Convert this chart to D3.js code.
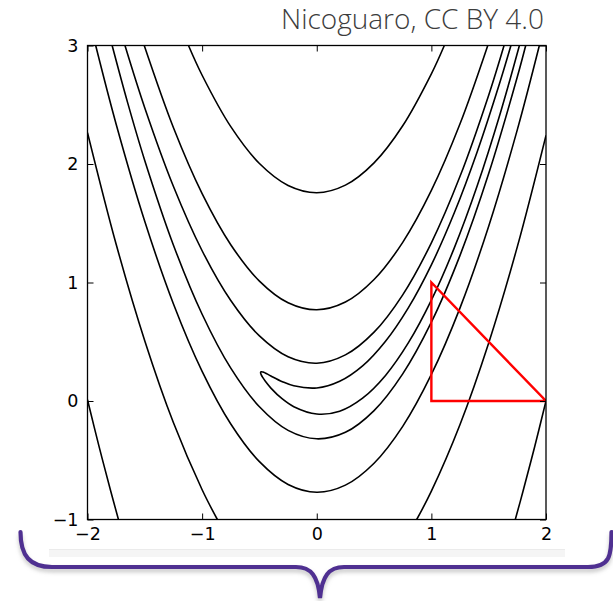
<!DOCTYPE html>
<html>
<head>
<meta charset="utf-8">
<script src="https://cdn.jsdelivr.net/npm/d3@7"></script>
<style>
  body { margin: 0; background: #fff; }
  svg { display: block; }
  .tick text { font-family: "DejaVu Sans", sans-serif; font-size: 17.5px; fill: #000; }
  .tick line { stroke: #000; stroke-width: 1; }
</style>
</head>
<body>
<div id="viz"></div>
<script>
var W = 613, H = 601;

// axis ticks
var xTicks = [-2, -1, 0, 1, 2];
var yTicks = [-1, 0, 1, 2, 3];

// contour lines, points (x, y)
var hairpin = [[1.694, 3], [1.6, 2.696], [1.4, 2.104], [1.2, 1.588], [1.0, 1.149], [0.8, 0.788],
  [0.6, 0.504], [0.4, 0.296], [0.2, 0.166], [0, 0.110], [-0.2, 0.128], [-0.3, 0.163], [-0.4, 0.211],
  [-0.45, 0.237], [-0.47, 0.245], [-0.485, 0.247], [-0.49, 0.240], [-0.485, 0.223], [-0.47, 0.197],
  [-0.45, 0.168], [-0.4, 0.109], [-0.3, 0.017], [-0.2, -0.048], [0, -0.110], [0.2, -0.086],
  [0.4, 0.024], [0.6, 0.216], [0.8, 0.492], [1.0, 0.851], [1.2, 1.292], [1.4, 1.816], [1.6, 2.424],
  [1.768, 3]];
var level2Upper = [[-1.673, 3], [-1.5, 2.473], [-1.25, 1.810], [-1, 1.268], [-0.75, 0.848],
  [-0.5, 0.549], [-0.25, 0.373], [0, 0.319], [0.25, 0.389], [0.5, 0.581], [0.75, 0.896],
  [1, 1.335], [1.25, 1.896], [1.5, 2.581], [1.634, 3]];
var level2Lower = [[-1.785, 3], [-1.65, 2.518], [-1.5, 2.028], [-1.25, 1.315], [-1, 0.732],
  [-0.75, 0.277], [-0.5, -0.049], [-0.25, -0.248], [0, -0.319], [0.25, -0.264], [0.5, -0.081],
  [0.75, 0.229], [1, 0.665], [1.25, 1.229], [1.5, 1.919], [1.75, 2.736], [1.823, 3]];
var level3Upper = [[-1.505, 3], [-1.25, 2.306], [-1, 1.750], [-0.75, 1.319], [-0.5, 1.012],
  [-0.25, 0.829], [0, 0.770], [0.25, 0.835], [0.5, 1.025], [0.75, 1.339], [1, 1.777],
  [1.25, 2.339], [1.492, 3]];
var level3Lower = [[-1.9285, 3], [-1.75, 2.336], [-1.5, 1.515], [-1.25, 0.819], [-1, 0.250],
  [-0.75, -0.194], [-0.5, -0.512], [-0.25, -0.704], [0, -0.770], [0.25, -0.710], [0.5, -0.525],
  [0.75, -0.214], [1, 0.224], [1.25, 0.786], [1.5, 1.475], [1.75, 2.290], [1.942, 3]];
var level4Upper = [[-1.119, 3], [-1, 2.749], [-0.75, 2.315], [-0.5, 2.004], [-0.25, 1.819],
  [0, 1.758], [0.25, 1.822], [0.5, 2.010], [0.75, 2.323], [1, 2.761], [1.113, 3]];
var level4LowerLeft = [[-2, 2.265], [-1.75, 1.323], [-1.5, 0.507], [-1.25, -0.184], [-1, -0.749],
  [-0.867, -1]];
var level4LowerRight = [[0.872, -1], [1, -0.761], [1.25, -0.198], [1.5, 0.490], [1.75, 1.303],
  [2, 2.242]];
var level5Left = [[-2, 0.010], [-1.9, -0.381], [-1.8, -0.751], [-1.73, -1]];
var level5Right = [[1.732, -1], [1.8, -0.760], [1.9, -0.390], [2, 0]];

// simplex (red triangle)
var triangle = [[1, 1], [1, 0], [2, 0]];

var contourLines = [hairpin, level2Upper, level2Lower, level3Upper, level3Lower,
  level4Upper, level4LowerLeft, level4LowerRight, level5Left, level5Right];

var plot = { left: 87.5, right: 546, top: 45.5, bottom: 519.5 };

var svg = d3.select('#viz').append('svg')
  .attr('width', W)
  .attr('height', H);

var x = d3.scaleLinear().domain([-2, 2]).range([plot.left, plot.right]);
var y = d3.scaleLinear().domain([-1, 3]).range([plot.bottom, plot.top]);
var fmt = d3.format('d');

// attribution text
svg.append('text')
  .attr('x', 544)
  .attr('y', 28.5)
  .attr('text-anchor', 'end')
  .style('font-family', '"Open Sans", sans-serif')
  .style('font-weight', 300)
  .style('font-size', '28px')
  .style('fill', '#3c3c3c')
  .text('Nicoguaro, CC BY 4.0');

var defs = svg.append('defs');
defs.append('clipPath').attr('id', 'clip')
  .append('rect')
  .attr('x', plot.left).attr('y', plot.top)
  .attr('width', plot.right - plot.left).attr('height', plot.bottom - plot.top);
defs.append('filter').attr('id', 'blur')
  .attr('x', '-10%').attr('y', '-50%').attr('width', '120%').attr('height', '200%')
  .append('feGaussianBlur').attr('stdDeviation', 2);

var line = d3.line()
  .x(function (d) { return x(d[0]); })
  .y(function (d) { return y(d[1]); })
  .curve(d3.curveCatmullRom.alpha(0.5));

var chart = svg.append('g').attr('clip-path', 'url(#clip)');

chart.selectAll('path.contour')
  .data(contourLines)
  .enter()
  .append('path')
  .attr('class', 'contour')
  .attr('d', line)
  .attr('fill', 'none')
  .attr('stroke', '#000')
  .attr('stroke-width', 1.6);

chart.append('path')
  .datum(triangle)
  .attr('d', d3.line()
    .x(function (d) { return x(d[0]); })
    .y(function (d) { return y(d[1]); })
    .curve(d3.curveLinearClosed))
  .attr('fill', 'none')
  .attr('stroke', '#ff0000')
  .attr('stroke-width', 2.4)
  .attr('stroke-linejoin', 'miter');

// axes, ticks pointing inward on all four sides
svg.append('g')
  .attr('transform', 'translate(0,' + plot.bottom + ')')
  .call(d3.axisBottom(x).tickValues(xTicks).tickFormat(fmt).tickSizeInner(-6).tickSizeOuter(0).tickPadding(8))
  .call(function (g) { g.select('.domain').remove(); });
svg.append('g')
  .attr('transform', 'translate(0,' + plot.top + ')')
  .call(d3.axisTop(x).tickValues(xTicks).tickSizeInner(-6).tickSizeOuter(0).tickFormat(''))
  .call(function (g) { g.select('.domain').remove(); });
svg.append('g')
  .attr('transform', 'translate(' + plot.left + ',0)')
  .call(d3.axisLeft(y).tickValues(yTicks).tickFormat(fmt).tickSizeInner(-6).tickSizeOuter(0).tickPadding(9))
  .call(function (g) { g.select('.domain').remove(); });
svg.append('g')
  .attr('transform', 'translate(' + plot.right + ',0)')
  .call(d3.axisRight(y).tickValues(yTicks).tickSizeInner(-6).tickSizeOuter(0).tickFormat(''))
  .call(function (g) { g.select('.domain').remove(); });

svg.append('rect')
  .attr('x', plot.left).attr('y', plot.top)
  .attr('width', plot.right - plot.left).attr('height', plot.bottom - plot.top)
  .attr('fill', 'none')
  .attr('stroke', '#000')
  .attr('stroke-width', 1.3);

// faint strip under the figure
svg.append('rect')
  .attr('x', 49).attr('y', 549).attr('width', 516).attr('height', 8)
  .attr('fill', '#f5f5f5');
svg.append('line')
  .attr('x1', 49).attr('x2', 565).attr('y1', 549.5).attr('y2', 549.5)
  .attr('stroke', '#ebebeb').attr('stroke-width', 1);

// purple brace
var brace = 'M20.5,532 C20.5,556 30,567 52,567 L296,567 C311,567 318,576 320,598 ' +
  'C322,576 329,567 344,567 L588,567 C610,567 611.5,556 611.5,532';
svg.append('path')
  .attr('d', brace)
  .attr('transform', 'translate(0,3)')
  .attr('fill', 'none')
  .attr('stroke', '#9a9a9a')
  .attr('stroke-opacity', 0.6)
  .attr('stroke-width', 4)
  .attr('filter', 'url(#blur)');
svg.append('path')
  .attr('d', brace)
  .attr('fill', 'none')
  .attr('stroke', '#4f3091')
  .attr('stroke-width', 4.2)
  .attr('stroke-linecap', 'round');
</script>
</body>
</html>
